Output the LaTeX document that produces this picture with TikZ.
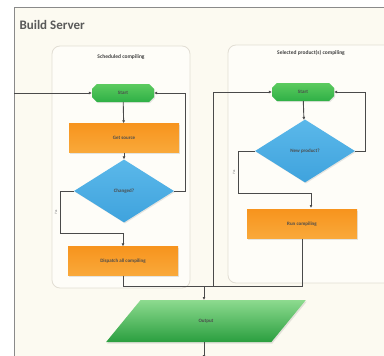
\documentclass[tikz,border=0pt]{standalone}
\usepackage{fontspec}
\setmainfont{Carlito}
\usetikzlibrary{shapes.geometric,shapes.misc,arrows.meta,shadows}
\definecolor{cream}{HTML}{FCFAF1}
\definecolor{lanefill}{HTML}{FEFDF8}
\definecolor{laneline}{HTML}{E2DED4}
\definecolor{frameline}{HTML}{8A8A8A}
\definecolor{conn}{HTML}{4A4A4A}
\definecolor{orA}{HTML}{F7941E}
\definecolor{orB}{HTML}{F9A93A}
\definecolor{blA}{HTML}{3FA3DD}
\definecolor{blB}{HTML}{5BB8EA}
\definecolor{grA}{HTML}{2FB046}
\definecolor{grB}{HTML}{5CCB5F}
\tikzset{
  x={(1pt,0)}, y={(0,-1pt)},
  lane/.style={draw=laneline, line width=0.8pt, fill=lanefill, rounded corners=8pt},
  lanetitle/.style={font=\fontsize{5.5}{6}\selectfont\bfseries, text=black!75},
  startbox/.style={chamfered rectangle, chamfered rectangle xsep=4pt, draw=none,
     top color=grB, bottom color=grA, minimum width=62pt, minimum height=18pt,
     inner sep=0pt, font=\fontsize{5}{6}\selectfont\bfseries, text=black!70,
     drop shadow={opacity=0.2, shadow xshift=1pt, shadow yshift=-1pt}},
  procbox/.style={rectangle, draw=none, top color=orA, bottom color=orB,
     minimum width=110pt, minimum height=29pt, inner sep=0pt,
     font=\fontsize{5}{6}\selectfont\bfseries, text=black!70,
     drop shadow={opacity=0.2, shadow xshift=1pt, shadow yshift=-1pt}},
  decbox/.style={diamond, aspect=1.6, draw=none, top color=blB, bottom color=blA,
     minimum width=100pt, minimum height=63pt, inner sep=0pt,
     font=\fontsize{5}{6}\selectfont\bfseries, text=black!70,
     drop shadow={opacity=0.2, shadow xshift=1pt, shadow yshift=-1pt}},
  iobox/.style={trapezium, trapezium left angle=46, trapezium right angle=134,
     trapezium stretches=true, draw=none, top color=grB!70!white, bottom color=grA!90!black,
     minimum width=200pt, minimum height=42pt, inner sep=0pt,
     font=\fontsize{5}{6}\selectfont\bfseries, text=black!70,
     drop shadow={opacity=0.2, shadow xshift=1pt, shadow yshift=-1.5pt}},
  conn/.style={draw=conn, line width=0.9pt},
  arr/.style={conn, -{Latex[length=3pt,width=3pt]}},
  tiny/.style={font=\fontsize{3.5}{4}\selectfont, text=black!50}
}
\begin{document}
\begin{tikzpicture}
\useasboundingbox (0,0) rectangle (384,356);
\fill[white] (0,0) rectangle (384,356);
\fill[cream] (14,7) rectangle (384,356);
\draw[frameline, line width=1pt] (14,360) -- (14,7) -- (390,7);
\node[anchor=west, font=\fontsize{13}{15}\selectfont\bfseries, text=black!65] (title) at (16,25) {Build Server};
% lanes
\draw[lane] (52,46) rectangle (190,288);
\draw[lane] (228,45) rectangle (400,283);
\node[lanetitle] (lt1) at (121,57) {Scheduled compiling};
\node[lanetitle] (lt2) at (311,53) {Selected product(s) compiling};
% left lane nodes
\node[startbox] (ls) at (123,93) {Start};
\node[procbox] (lget) at (124,138) {Get source};
\node[decbox] (ldia) at (124,191) {Changed?};
\node[procbox] (ldep) at (123,261) {Dispatch all compiling};
% right lane nodes
\node[startbox] (rs) at (303,92) {Start};
\node[decbox] (rdia) at (305,151) {New product?};
\node[procbox] (rrun) at (302,224) {Run compiling};
% output
\node[iobox] (out) at (206,321) {Output};
% coordinates
\coordinate (inl) at (14,93);
\coordinate (lr1) at (185,191);
\coordinate (lr2) at (185,93);
\coordinate (ll1) at (60,191);
\coordinate (ll2) at (60,233);
\coordinate (ll3) at (123,233);
\coordinate (lb) at (123,286);
\coordinate (jn) at (213,286);
\coordinate (rb) at (302,286);
\coordinate (rup) at (213,92);
\coordinate (rr1) at (365,151);
\coordinate (rr2) at (365,92);
\coordinate (rl1) at (238,151);
\coordinate (rl2) at (238,193);
\coordinate (rl3) at (311,193);
\coordinate (rl4) at (311,208);
\coordinate (od) at (204,286);
\coordinate (otop) at (204,300);
\coordinate (obot) at (204,342);
\coordinate (oend) at (204,358);
% connectors
\draw[arr] (inl) -- (ls.west);
\draw[arr] (ls) -- (lget);
\draw[arr] (lget) -- (ldia);
\draw[arr] (ldia.east) -- (lr1) -- (lr2) -- (ls.east);
\draw[arr] (ldia.west) -- (ll1) -- (ll2) -- (ll3) -- (ldep.north);
\node[tiny, rotate=90] (ly) at (56,212) {Yes};
\draw[conn] (ldep.south) -- (lb) -- (jn);
\draw[conn] (rrun.south) -- (rb) -- (jn);
\draw[arr] (jn) -- (rup) -- (rs.west);
\draw[arr] (rs) -- (rdia);
\draw[arr] (rdia.east) -- (rr1) -- (rr2) -- (rs.east);
\draw[arr] (rdia.west) -- (rl1) -- (rl2) -- (rl3) -- (rl4);
\node[tiny, rotate=90] (ry) at (234,172) {Yes};
\draw[arr] (od) -- (otop);
\draw[arr] (obot) -- (oend);
\end{tikzpicture}
\end{document}
